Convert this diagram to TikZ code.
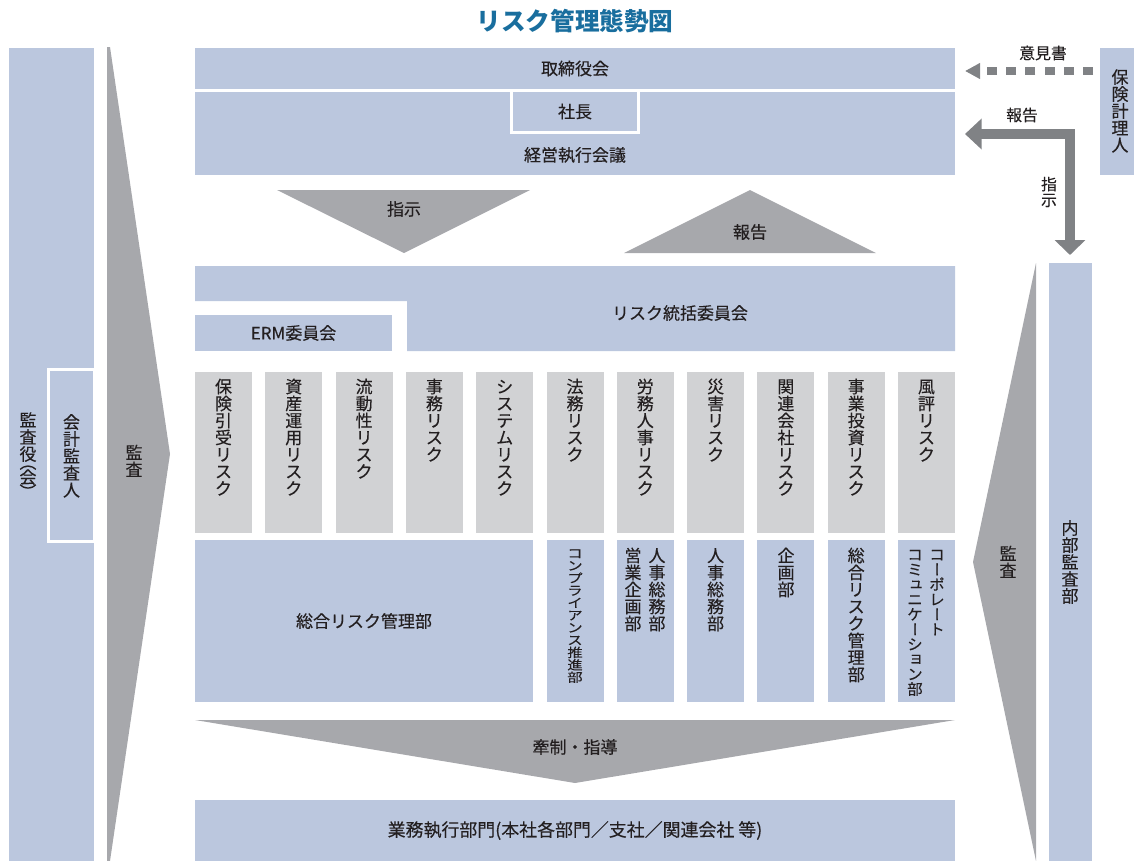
\documentclass[tikz,border=0pt]{standalone}
\usepackage{fontspec}
\usepackage{graphicx}
\setmainfont{Noto Sans CJK JP}
\newfontfamily\medfont{Noto Sans CJK JP}[FakeBold=0.25]
\usetikzlibrary{arrows.meta}
\definecolor{cblue}{RGB}{187,199,222}
\definecolor{cgray}{RGB}{209,210,212}
\definecolor{cdark}{RGB}{167,168,172}
\definecolor{carrow}{RGB}{128,130,133}
\definecolor{ctitle}{RGB}{25,110,158}
\definecolor{ctext}{RGB}{35,31,32}
\newcommand\fsz[1]{\medfont\fontsize{#1pt}{#1pt}\selectfont}
\makeatletter
\def\vt@strut{\vrule height .88em depth .12em width 0pt}
\def\vt@end{\vt@end@}
\def\vt@loop#1{\ifx\vt@end#1\else\vt@char{#1}\expandafter\vt@loop\fi}
\def\vt@char#1{\hbox to 1em{\hss#1\vt@strut\hss}}
\newcommand\vtext[1]{\vbox{\offinterlineskip\vt@loop#1\vt@end}}
\newcommand\vtextx[1]{\expandafter\vtext\expandafter{#1}}
\newcommand\VL{\rotatebox[origin=c]{-90}{\hbox{\vrule height .88em depth .12em width 0pt ー}}}
\newcommand\VPL{\def\vt@strut{\vrule height .36em depth 0pt width 0pt}\smash{\rotatebox[origin=c]{-90}{\hbox{\vrule height .88em depth .12em width 0pt （}}}}
\newcommand\VPR{\def\vt@strut{\vrule height .36em depth 0pt width 0pt}\lower.4em\hbox{\smash{\rotatebox[origin=c]{-90}{\hbox{\vrule height .88em depth .12em width 0pt ）}}}}}
\newcommand\SK[1]{\kern.15em\raise.12em\hbox{#1}}
\makeatother
\tikzset{
  bxs/.style={fill=cblue, draw=none, inner sep=0pt, outer sep=0pt, text=ctext, font=\fsz{14.5}},
  lbl/.style={text=ctext, font=\fsz{14.5}, inner sep=0pt, outer sep=0pt},
  vlbl/.style={lbl, anchor=north},
  slbl/.style={text=ctext, font=\fsz{13.5}, inner sep=0pt},
  chev/.style={fill=cdark, draw=none},
}
\newcommand\rnode[7][]{\node[bxs,#1,minimum width={(#5-#3)*0.03cm},minimum height={(#6-#4)*0.03cm}] (#2) at ({(#3+#5)/2},{(#4+#6)/2}) {#7};}
\begin{document}
\begin{tikzpicture}[x=0.03cm,y=-0.03cm]
\useasboundingbox (0,0) rectangle (1134,861);
% title
\node[font=\fontsize{21pt}{21pt}\selectfont\bfseries, text=ctitle, inner sep=0pt] (title) at (575,21) {リスク管理態勢図};
% left column
\rnode{kansayaku}{9}{48}{94}{861}{}
\node[lbl] (kansayakuT) at (28,455) {\vtext{監査役\VPL 会\VPR}};
\rnode[fill=white]{kaikeiO}{47}{368}{96}{543}{}
\rnode{kaikei}{50}{371}{93}{540}{}
\node[lbl] (kaikeiT) at (71.5,456) {\vtext{会計監査人}};
% left chevron
\fill[cdark] (107,47) -- (110,47) -- (170,454) -- (110,861) -- (107,861) -- cycle;
\node[lbl] (kansaL) at (134,461) {\vtext{監査}};
% top block
\rnode{board}{195}{48}{955}{89}{取締役会}
\rnode{exec}{195}{92}{955}{175}{}
\rnode[fill=white]{presO}{510}{89}{640}{134}{}
\rnode{pres}{513}{92}{637}{131}{社長}
\node[lbl] (execT) at (575,155) {経営執行会議};
% triangles
\fill[cdark] (277,190) -- (530,190) -- (404,253) -- cycle;
\node[lbl] (shijiT) at (404,209) {指示};
\fill[cdark] (624,253) -- (876,253) -- (750,190) -- cycle;
\node[lbl] (hokokuT) at (750,232) {報告};
% risk committee
\fill[cblue] (195,266) -- (955,266) -- (955,351) -- (407,351) -- (407,301) -- (195,301) -- cycle;
\node[lbl] (toukatsu) at (680,313) {リスク統括委員会};
\rnode{erm}{195}{315}{392}{351}{ERM委員会}
% risk columns
\foreach \i/\lab in {0/保険引受リスク,1/資産運用リスク,2/流動性リスク,3/事務リスク,4/システムリスク,5/法務リスク,6/労務人事リスク,7/災害リスク,8/関連会社リスク,9/事業投資リスク,10/風評リスク}{
  \pgfmathsetmacro\xa{195+70.3*\i}
  \pgfmathsetmacro\xb{\xa+57}
  \rnode[fill=cgray]{risk\i}{\xa}{372}{\xb}{533}{}
  \node[vlbl] (riskT\i) at ({\xa+28.5},378) {\vtextx{\lab}};
}
% departments
\rnode{sogo}{195}{540}{533}{702}{総合リスク管理部}
\foreach \i in {5,...,10}{
  \pgfmathsetmacro\xa{195+70.3*\i}
  \pgfmathsetmacro\xb{\xa+57}
  \rnode{dept\i}{\xa}{540}{\xb}{702}{}
}
\node[vlbl] (d5) at (575,547) {\scalebox{0.9}[0.73]{\vtext{コンプライアンス推進部}}};
\node[vlbl] (d6a) at (657,547) {\vtext{人事総務部}};
\node[vlbl] (d6b) at (633,547) {\vtext{営業企画部}};
\node[vlbl] (d7) at (715.6,547) {\vtext{人事総務部}};
\node[vlbl] (d8) at (786,547) {\vtext{企画部}};
\node[vlbl] (d9) at (856.2,547) {\vtext{総合リスク管理部}};
\node[vlbl] (d10a) at (937,547) {\scalebox{0.9}[0.88]{\vtext{コ\VL ポレ\VL ト}}};
\node[vlbl] (d10b) at (915,547) {\scalebox{0.9}[0.88]{\vtext{コミ{\SK{ュ}}ニケ\VL シ{\SK{ョ}}ン部}}};
% down chevron
\fill[cdark] (195,720) -- (955,720) -- (575,783) -- cycle;
\node[lbl] (kensei) at (575,747) {牽制・指導};
% bottom box
\rnode[font=\fsz{15.3}]{gyomu}{195}{800}{955}{861}{業務執行部門(本社各部門／支社／関連会社 等)}
% right chevron
\fill[cdark] (1036,263) -- (973,562) -- (1036,861) -- cycle;
\node[lbl] (kansaR) at (1008,562) {\vtext{監査}};
% internal audit
\rnode{naibu}{1049}{263}{1092}{861}{}
\node[lbl] (naibuT) at (1070,562) {\vtext{内部監査部}};
% actuary
\rnode{keiri}{1100}{48}{1134}{175}{}
\node[lbl] (keiriT) at (1120,111) {\vtext{保険計理人}};
% arrows
\coordinate (dashS) at (1093,71);
\coordinate (dashE) at (965,71);
\draw[carrow, line width=0.24cm, dash pattern=on 0.3cm off 0.276cm, -{Triangle[width=0.45cm,length=0.45cm]}] (dashS) -- (dashE);
\node[slbl] (ikensho) at (1043,53) {意見書};
\coordinate (hTip) at (965,134);
\coordinate (lCorner) at (1070,134);
\coordinate (vTip) at (1070,255);
\draw[carrow, line width=0.3cm, {Triangle[width=0.9cm,length=0.5cm]}-{Triangle[width=0.9cm,length=0.45cm]}] (hTip) -- (lCorner) -- (vTip);
\node[slbl] (hokokuR) at (1022,115) {報告};
\node[slbl] (shijiR) at (1049,192) {\vtext{指示}};
\end{tikzpicture}
\end{document}
